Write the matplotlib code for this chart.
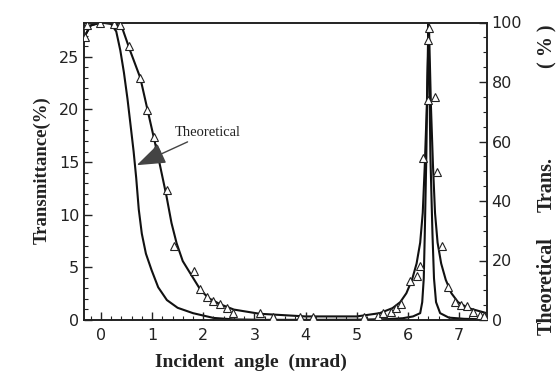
import matplotlib
matplotlib.use("Agg")
import matplotlib.pyplot as plt
from matplotlib.ticker import MultipleLocator

# Experimental data (left axis, Transmittance %)
exp_x = [-0.31, -0.27, -0.01, 0.25, 0.38, 0.54, 0.77, 0.91, 1.04, 1.08, 1.30, 1.43,
         1.82, 1.94, 2.07, 2.20, 2.33, 2.46, 2.59, 3.11, 3.37, 3.89, 4.15, 5.14, 5.42,
         5.52, 5.66, 5.76, 5.87, 6.04, 6.18, 6.24, 6.29, 6.40, 6.40, 6.42, 6.53, 6.57,
         6.66, 6.79, 6.92, 7.03, 7.15, 7.28, 7.41, 7.49]
exp_y = [26.9, 28.0, 28.2, 28.1, 28.0, 26.0, 23.0, 19.9, 17.35, 16.3, 12.3, 7.0,
         4.7, 2.9, 2.15, 1.83, 1.52, 1.1, 0.7, 0.7, 0.3, 0.3, 0.3, 0.3, 0.4,
         0.64, 0.8, 1.1, 1.52, 3.7, 4.2, 5.1, 15.4, 20.9, 26.6, 27.7, 21.2, 14.1,
         7.0, 3.1, 1.74, 1.42, 1.33, 0.79, 0.47, 0.4]

# Theoretical curves (right axis, %)
th1_x = [-0.33, -0.2, 0.0, 0.2, 0.30, 0.38, 0.45, 0.52, 0.58, 0.64, 0.69, 0.74,
         0.80, 0.88, 0.99, 1.12, 1.29, 1.50, 1.80, 2.20, 2.60, 3.2, 4.0, 5.0,
         5.6, 5.9, 6.10, 6.24, 6.28, 6.31, 6.33, 6.36, 6.38, 6.40, 6.42, 6.44,
         6.48, 6.51, 6.55, 6.63, 6.80, 7.1, 7.54]
th1_y = [95, 99, 100, 99.5, 97, 90.6, 83.2, 74.3, 65.5, 56.6, 47.8, 37.2,
         29.0, 22.3, 16.8, 11.0, 6.7, 4.1, 2.3, 0.7, 0.2, 0.05, 0.05, 0.1,
         0.3, 0.6, 1.2, 2.3, 6, 14, 29, 55, 80, 100, 80, 55,
         29, 14, 6, 2.3, 0.8, 0.4, 0.2]

th2_x = [-0.33, -0.2, 0.0, 0.2, 0.41, 0.57, 0.77, 0.90, 1.04, 1.15, 1.28, 1.38,
         1.48, 1.60, 1.80, 1.94, 2.10, 2.33, 2.60, 3.10, 4.0, 5.0, 5.45, 5.70,
         5.85, 5.97, 6.08, 6.17, 6.24, 6.29, 6.33, 6.37, 6.41, 6.45, 6.49, 6.53,
         6.58, 6.65, 6.74, 6.85, 6.98, 7.18, 7.54]
th2_y = [95, 99, 100, 100, 98.5, 90.6, 81.4, 71.5, 60.9, 52.4, 41.8, 32.6,
         25.8, 19.8, 14.2, 10.3, 7.4, 5.3, 3.5, 2.1, 1.2, 1.2, 2.3, 4.0,
         6.0, 9.0, 13.5, 19, 26, 36, 52, 72, 100, 72, 52, 36,
         26, 19, 13.5, 9.0, 6.0, 4.0, 2.3]

x_ticks = [0, 1, 2, 3, 4, 5, 6, 7]
left_ticks = [0, 5, 10, 15, 20, 25]
right_ticks = [0, 20, 40, 60, 80, 100]

W, H = 560, 381
fig = plt.figure(figsize=(5.6, 3.81), dpi=100)
ax = fig.add_axes([84 / W, 1 - 320 / H, (486.7 - 84) / W, (320 - 22.5) / H])
ax2 = ax.twinx()

ax.plot(exp_x, exp_y, linestyle='none', marker='^', markersize=5.2,
        markerfacecolor='white', markeredgecolor='#222222', markeredgewidth=0.8, zorder=3)
ax2.plot(th1_x, th1_y, color='#111111', lw=1.5, zorder=2)
ax2.plot(th2_x, th2_y, color='#111111', lw=1.5, zorder=2)

ax.set_xlim(-0.33, 7.54)
ax.set_ylim(0, 28.25)
ax2.set_ylim(0, 100)
ax.set_zorder(ax2.get_zorder() + 1)
ax.patch.set_visible(False)

ax.set_xticks(x_ticks)
ax.set_yticks(left_ticks)
ax2.set_yticks(right_ticks)
ax.xaxis.set_minor_locator(MultipleLocator(0.2))
ax.yaxis.set_minor_locator(MultipleLocator(1))
ax2.yaxis.set_minor_locator(MultipleLocator(5))

for a in (ax, ax2):
    a.tick_params(which='major', direction='in', length=6, width=1, labelsize=11.5, color='#222222')
    a.tick_params(which='minor', direction='in', length=3, width=0.8, color='#222222')
    for s in a.spines.values():
        s.set_linewidth(1.2)
        s.set_color('#222222')
ax.tick_params(axis='x', which='both', top=False, pad=6)
ax.tick_params(axis='y', which='both', right=False)
ax2.tick_params(axis='y', which='both', left=False)
for lbl in ax.get_xticklabels() + ax.get_yticklabels() + ax2.get_yticklabels():
    lbl.set_fontfamily('DejaVu Sans')
    lbl.set_color('#222222')

label_font = dict(family='Liberation Serif', weight='bold', color='#222222')
fig.text(251 / W, 1 - 362 / H, 'Incident  angle  (mrad)', ha='center', va='center',
         size=14, **label_font)
fig.text(42 / W, 1 - 170 / H, 'Transmittance(%)', ha='center', va='center',
         rotation=90, size=13.5, **label_font)
fig.text(547 / W, 1 - 286 / H, 'Theoretical', ha='center', va='center',
         rotation=90, size=14.5, **label_font)
fig.text(547 / W, 1 - 185 / H, 'Trans.', ha='center', va='center',
         rotation=90, size=14.5, **label_font)
fig.text(547 / W, 1 - 46 / H, '( % )', ha='center', va='center',
         rotation=90, size=14.5, **label_font)

ax.annotate('Theoretical', xy=(0.70, 14.7), xytext=(1.45, 17.85),
            fontsize=10.5, family='Liberation Serif', color='#222222', va='center',
            arrowprops=dict(arrowstyle='-|>,head_length=1.8,head_width=0.65',
                            mutation_scale=10, color='#444444', lw=1.0,
                            shrinkA=1, shrinkB=0, relpos=(0.3, 0.0)))

fig.savefig('out.png', dpi=100)
